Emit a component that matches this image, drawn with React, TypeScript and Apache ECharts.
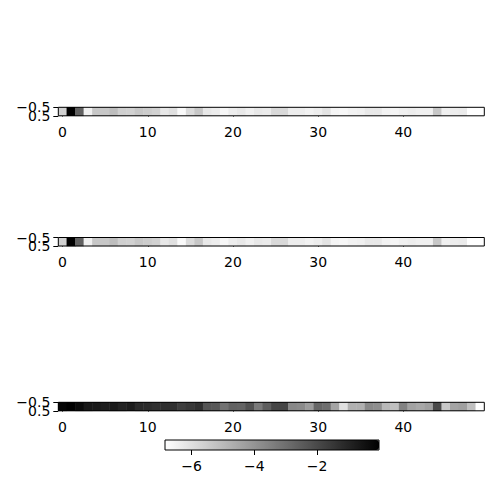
import React, { useEffect, useRef } from "react";
import * as echarts from "echarts";

const columns: string[] = Array.from({ length: 50 }, (_, i) => String(i));
const rows: string[] = ["0"];

// top two panels (normalised intensity, 0 = white, 1 = black)
const panelA: number[] = [
  0.18, 1.0, 0.62, 0.06, 0.22, 0.22, 0.26, 0.19, 0.18, 0.22,
  0.2, 0.18, 0.09, 0.12, 0.02, 0.14, 0.22, 0.09, 0.07, 0.03,
  0.07, 0.09, 0.06, 0.09, 0.08, 0.15, 0.15, 0.07, 0.07, 0.05,
  0.07, 0.11, 0.04, 0.03, 0.05, 0.06, 0.09, 0.09, 0.05, 0.04,
  0.06, 0.07, 0.06, 0.06, 0.22, 0.06, 0.07, 0.08, 0.0, 0.0,
];
const panelB: number[] = [
  0.18, 1.0, 0.62, 0.06, 0.22, 0.22, 0.26, 0.19, 0.18, 0.22,
  0.2, 0.18, 0.09, 0.12, 0.02, 0.14, 0.22, 0.09, 0.07, 0.03,
  0.07, 0.09, 0.06, 0.09, 0.08, 0.15, 0.15, 0.07, 0.07, 0.05,
  0.07, 0.11, 0.04, 0.03, 0.05, 0.06, 0.09, 0.09, 0.05, 0.04,
  0.06, 0.07, 0.06, 0.06, 0.22, 0.06, 0.07, 0.08, 0.0, 0.0,
];
// bottom panel (colorbar units)
const panelC: number[] = [
  -0.17, -0.03, -0.3, -0.67, -0.73, -0.78, -0.73, -0.94, -0.78, -1.16,
  -1.21, -1.31, -1.31, -1.31, -1.69, -1.53, -1.31, -2.3, -2.38, -3.08,
  -2.65, -2.7, -2.23, -3.29, -2.55, -1.88, -1.88, -3.67, -3.75, -4.2,
  -2.78, -3.0, -4.42, -6.02, -4.76, -4.74, -3.69, -3.83, -4.95, -5.17,
  -3.51, -4.36, -4.52, -4.31, -2.01, -5.38, -4.42, -4.31, -5.17, -6.85,
];
const colorbarMin = -6.85;
const colorbarMax = -0.03;
const colorbarTicks: number[] = [-6, -4, -2];
const yTicks: number[] = [-0.5, 0, 0.5];

const FONT = "DejaVu Sans";
const fmtNum = (v: number, d: number) => (v < 0 ? "\u2212" : "") + Math.abs(v).toFixed(d);

export default function App() {
  const ref = useRef<HTMLDivElement>(null);
  useEffect(() => {
    if (!ref.current) return;
    const chart = echarts.init(ref.current, undefined, { renderer: "svg" });
    const panels = [panelA, panelB, panelC];
    const tops = [107.3, 237.5, 402.3];
    const grids: any[] = tops.map((t) => ({
      left: 58.3,
      top: t,
      width: 426,
      height: 8.5,
      show: true,
      borderColor: "#000",
      borderWidth: 1,
      backgroundColor: "transparent",
      z: 10,
    }));
    grids.push({
      left: 165,
      top: 440,
      width: 214,
      height: 10,
      show: true,
      borderColor: "#000",
      borderWidth: 1,
      backgroundColor: "transparent",
      z: 10,
    });
    const xAxes: any[] = tops.map((_, i) => ({
      type: "category",
      gridIndex: i,
      data: columns,
      axisLine: { show: false },
      axisTick: {
        show: true,
        alignWithLabel: true,
        interval: (idx: number) => idx % 10 === 0,
        length: 5,
        lineStyle: { color: "#000", width: 1 },
      },
      axisLabel: {
        interval: (idx: number) => idx % 10 === 0,
        margin: 9,
        color: "#000",
        fontFamily: FONT,
        fontSize: 14,
      },
      splitLine: { show: false },
    }));
    xAxes.push({
      type: "value",
      gridIndex: 3,
      min: colorbarMin,
      max: colorbarMax,
      axisLine: { show: false },
      splitLine: { show: false },
      axisTick: {
        show: true,
        customValues: colorbarTicks,
        length: 5,
        lineStyle: { color: "#000", width: 1 },
      },
      axisLabel: {
        customValues: colorbarTicks,
        margin: 9,
        color: "#000",
        fontFamily: FONT,
        fontSize: 14,
        formatter: (v: number) => fmtNum(v, 0),
      },
    });
    const yAxes: any[] = [];
    tops.forEach((_, i) => {
      yAxes.push({ type: "category", gridIndex: i, data: rows, show: false });
      yAxes.push({
        type: "value",
        gridIndex: i,
        position: "left",
        min: -0.5,
        max: 0.5,
        interval: 0.5,
        inverse: true,
        axisLine: { show: false },
        splitLine: { show: false },
        axisTick: {
          show: true,
          customValues: yTicks,
          length: 5,
          lineStyle: { color: "#000", width: 1 },
        },
        axisLabel: {
          customValues: yTicks,
          showMinLabel: true,
          showMaxLabel: true,
          hideOverlap: false,
          margin: 8,
          color: "#000",
          fontFamily: FONT,
          fontSize: 14,
          formatter: (v: number) => fmtNum(v, 1),
        },
      });
    });
    yAxes.push({ type: "value", gridIndex: 3, show: false, min: 0, max: 1 });

    const series: any[] = panels.map((vals, i) => ({
      type: "heatmap",
      xAxisIndex: i,
      yAxisIndex: 2 * i,
      data: vals.map((v, k) => [k, 0, v]),
      itemStyle: { borderWidth: 0 },
      emphasis: { disabled: true },
    }));

    chart.setOption({
      animation: false,
      backgroundColor: "#fff",
      grid: grids,
      xAxis: xAxes,
      yAxis: yAxes,
      visualMap: [
        { type: "continuous", show: false, seriesIndex: 0, min: 0, max: 1, inRange: { color: ["#ffffff", "#000000"] } },
        { type: "continuous", show: false, seriesIndex: 1, min: 0, max: 1, inRange: { color: ["#ffffff", "#000000"] } },
        {
          type: "continuous",
          show: true,
          seriesIndex: 2,
          min: colorbarMin,
          max: colorbarMax,
          orient: "horizontal",
          left: 165,
          top: 440,
          itemWidth: 10,
          itemHeight: 214,
          padding: 0,
          calculable: false,
          hoverLink: false,
          text: undefined,
          inRange: { color: ["#ffffff", "#000000"] },
        },
      ],
      series,
    });
    return () => chart.dispose();
  }, []);
  return <div ref={ref} style={{ position: "absolute", left: 0, top: 0, width: 500, height: 500 }} />;
}
